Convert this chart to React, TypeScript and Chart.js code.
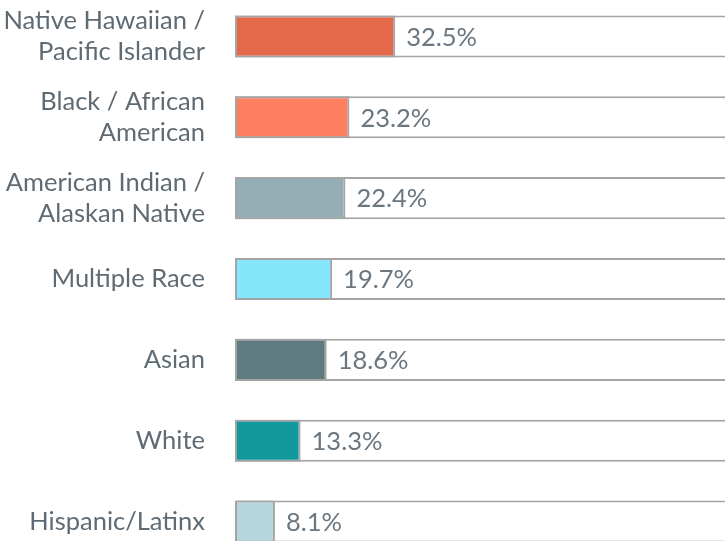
import React, { useEffect, useRef } from "react";
import { Chart, registerables } from "chart.js";

Chart.register(...registerables);

const categories: string[][] = [
  ["Native Hawaiian /", "Pacific Islander"],
  ["Black / African", "American"],
  ["American Indian /", "Alaskan Native"],
  ["Multiple Race"],
  ["Asian"],
  ["White"],
  ["Hispanic/Latinx"],
];
const values: number[] = [32.5, 23.2, 22.4, 19.7, 18.6, 13.3, 8.1];
const valueLabels: string[] = ["32.5%", "23.2%", "22.4%", "19.7%", "18.6%", "13.3%", "8.1%"];
const barColors: string[] = ["#e4694b", "#fb7f60", "#93aeb4", "#86e6fc", "#5e7b80", "#12999e", "#b6d5dc"];
const fullValues: number[] = [105, 105, 105, 105, 105, 105, 105];

const valueLabelPlugin = {
  id: "valueLabels",
  afterDatasetsDraw(chart: any) {
    const ctx = chart.ctx;
    const meta = chart.getDatasetMeta(0);
    ctx.save();
    ctx.font = "25.5px Lato";
    ctx.fillStyle = "#6b7780";
    ctx.textAlign = "left";
    ctx.textBaseline = "middle";
    meta.data.forEach((bar: any, i: number) => {
      ctx.fillText(valueLabels[i], bar.x + 11, bar.y + 1);
    });
    ctx.restore();
  },
};

export default function App() {
  const ref = useRef<HTMLCanvasElement | null>(null);
  useEffect(() => {
    if (!ref.current) return;
    const chart = new Chart(ref.current, {
      type: "bar",
      data: {
        labels: categories,
        datasets: [
          {
            data: values,
            backgroundColor: barColors,
            borderColor: "#a4a4a4",
            borderWidth: 2,
            borderSkipped: false,
            barPercentage: 0.52,
            categoryPercentage: 1,
            grouped: false,
          },
          {
            data: fullValues,
            backgroundColor: "#ffffff",
            borderColor: "#a4a4a4",
            borderWidth: 2,
            borderSkipped: false,
            barPercentage: 0.52,
            categoryPercentage: 1,
            grouped: false,
          },
        ],
      },
      options: {
        indexAxis: "y",
        animation: false,
        responsive: false,
        maintainAspectRatio: false,
        layout: { padding: 0 },
        plugins: {
          legend: { display: false },
          tooltip: { enabled: false },
        },
        scales: {
          x: { display: false, min: 0, max: 100 },
          y: {
            grid: { display: false, drawTicks: false },
            border: { display: false },
            ticks: {
              padding: 30,
              color: "#5f6b74",
              font: { family: "Lato", size: 25.5, lineHeight: 1.24 },
            },
            afterFit(scale: any) {
              scale.width = 235;
              scale.paddingTop = 0;
              scale.paddingBottom = 0;
            },
          },
        },
      },
      plugins: [valueLabelPlugin],
    });
    return () => chart.destroy();
  }, []);
  return (
    <div style={{ position: "absolute", left: 0, top: -4, width: 728, height: 566 }}>
      <canvas ref={ref} width={728} height={566} style={{ width: 728, height: 566 }} />
    </div>
  );
}
